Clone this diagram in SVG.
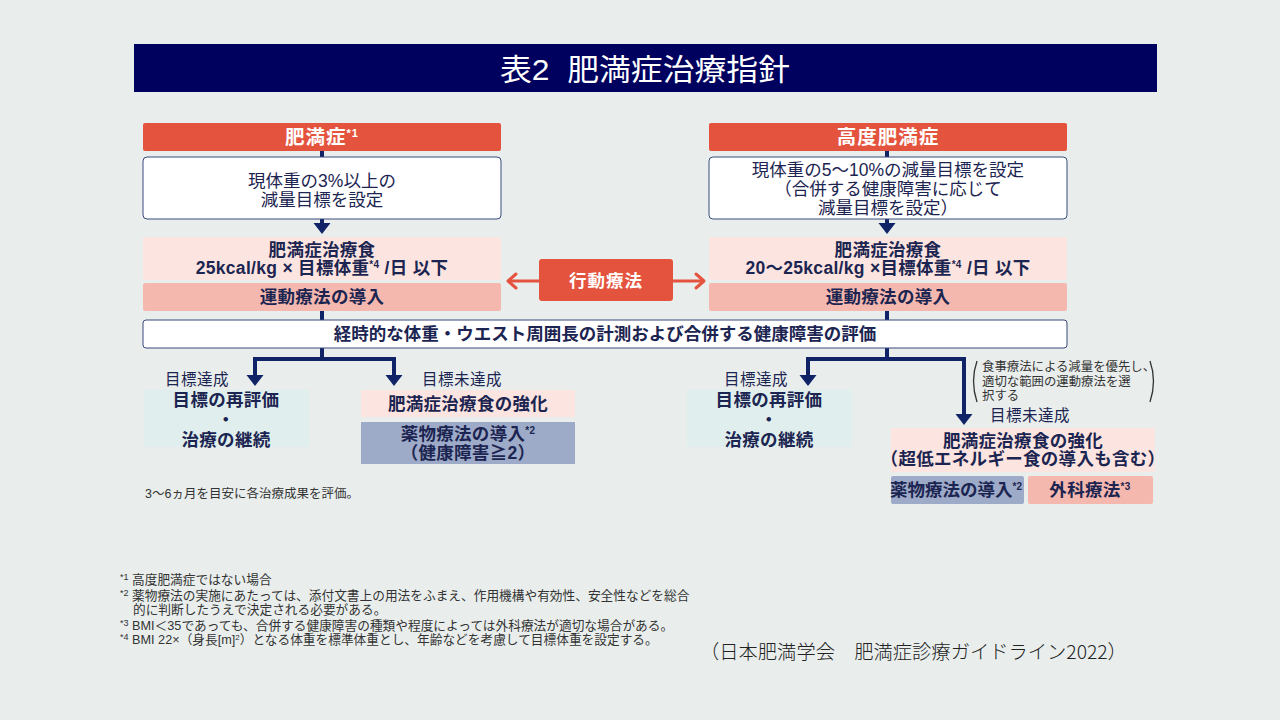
<svg xmlns="http://www.w3.org/2000/svg" width="1280" height="720" viewBox="0 0 1280 720">
<defs>
<style>
text{font-family:"Liberation Sans","Noto Sans CJK JP",sans-serif;fill:#1c2551}
.hd{fill:#e4533d}
.hdt{fill:#fff;font-size:19.5px;font-weight:bold;text-anchor:middle;letter-spacing:1px}
.wb{fill:#fff;stroke:#3b4a7c;stroke-width:1}
.wt{font-size:17.5px;text-anchor:middle}
.pl{fill:#fce5e0}
.pd{fill:#f5b8ae}
.tl{fill:#e0efed}
.bl{fill:#9eabc8}
.bt{font-size:17.5px;font-weight:bold;text-anchor:middle;letter-spacing:0.3px}
.lb{font-size:15.5px;letter-spacing:0.5px}
.ft{font-size:12.7px;fill:#333}
.nt{font-size:12.4px;fill:#333}
.cn{stroke:#0f2366;stroke-width:4;fill:none}
.cna{stroke:#0f2366;stroke-width:4;fill:none;marker-end:url(#arrN)}
.rda{stroke:#e4533d;stroke-width:3;fill:none;marker-end:url(#arrR)}
</style>
<marker id="arrN" viewBox="0 -9 12 18" refX="1" refY="0" markerWidth="12" markerHeight="18" markerUnits="userSpaceOnUse" orient="auto">
<path d="M0,-8.5 L11,0 L0,8.5 z" fill="#0f2366"/>
</marker>
<marker id="arrR" viewBox="-11 -10 13 20" refX="0" refY="0" markerWidth="13" markerHeight="20" markerUnits="userSpaceOnUse" orient="auto" overflow="visible">
<path d="M-8,-7 L0,0 L-8,7" fill="none" stroke="#e4533d" stroke-width="3" stroke-linecap="round" stroke-linejoin="round"/>
</marker>
</defs>
<rect width="1280" height="720" fill="#e9eeed"/>

<g id="title">
<rect x="134" y="44" width="1023" height="48" fill="#00005e"/>
<text x="645" y="80" font-family="Noto Sans CJK JP" font-size="30" style="fill:#fff" text-anchor="middle" textLength="290" lengthAdjust="spacingAndGlyphs" xml:space="preserve">表2  肥満症治療指針</text>
</g>

<g id="connectors">
<line class="cn" x1="322" y1="151" x2="322" y2="157"/>
<line class="cna" x1="322" y1="219" x2="322" y2="224"/>
<line class="cn" x1="322" y1="311" x2="322" y2="320"/>
<line class="cn" x1="887" y1="151" x2="887" y2="157"/>
<line class="cna" x1="887" y1="219" x2="887" y2="224"/>
<line class="cn" x1="887" y1="311" x2="887" y2="320"/>
<path class="cn" d="M322,348 V359"/>
<path class="cna" d="M255,376 V359 H394 V376"/>
<path class="cna" d="M255,359 V376"/>
<path class="cn" d="M887,348 V359"/>
<path class="cna" d="M808,376 V359 H964 V415"/>
<path class="cna" d="M808,359 V376"/>
<line class="rda" x1="539" y1="281" x2="508" y2="281"/>
<line class="rda" x1="673" y1="281" x2="704" y2="281"/>
</g>

<g id="n-obesity">
<rect class="hd" x="143" y="123" width="358" height="28" rx="2"/>
<text class="hdt" x="322" y="144">肥満症<tspan font-size="11" dy="-7">*1</tspan></text>
</g>
<g id="n-goal-left">
<rect class="wb" x="143" y="157" width="358" height="62" rx="4"/>
<text class="wt" x="322" y="187">現体重の3%以上の</text>
<text class="wt" x="322" y="206">減量目標を設定</text>
</g>
<g id="n-diet-left">
<rect class="pl" x="143" y="237" width="358" height="43" rx="2"/>
<text class="bt" x="322" y="256">肥満症治療食</text>
<text class="bt" x="322" y="274">25kcal/kg × 目標体重<tspan font-size="10" dy="-6">*4</tspan><tspan dy="6"> /日 以下</tspan></text>
</g>
<g id="n-exercise-left">
<rect class="pd" x="143" y="283" width="358" height="28" rx="2"/>
<text class="bt" x="322" y="303">運動療法の導入</text>
</g>

<g id="n-severe">
<rect class="hd" x="709" y="123" width="358" height="28" rx="2"/>
<text class="hdt" x="888" y="144">高度肥満症</text>
</g>
<g id="n-goal-right">
<rect class="wb" x="709" y="157" width="358" height="62" rx="4"/>
<text class="wt" x="888" y="176">現体重の5〜10%の減量目標を設定</text>
<text class="wt" x="888" y="195">（合併する健康障害に応じて</text>
<text class="wt" x="888" y="214">減量目標を設定）</text>
</g>
<g id="n-diet-right">
<rect class="pl" x="709" y="237" width="358" height="43" rx="2"/>
<text class="bt" x="888" y="256">肥満症治療食</text>
<text class="bt" x="888" y="274">20〜25kcal/kg ×目標体重<tspan font-size="10" dy="-6">*4</tspan><tspan dy="6"> /日 以下</tspan></text>
</g>
<g id="n-exercise-right">
<rect class="pd" x="709" y="283" width="358" height="28" rx="2"/>
<text class="bt" x="888" y="303">運動療法の導入</text>
</g>

<g id="n-behavior">
<rect class="hd" x="539" y="259" width="134" height="42" rx="3"/>
<text class="hdt" x="606" y="287" style="font-size:17.5px">行動療法</text>
</g>

<g id="n-monitor">
<rect class="wb" x="143" y="320" width="924" height="28" rx="3"/>
<text class="bt" x="605" y="340" style="letter-spacing:0">経時的な体重・ウエスト周囲長の計測および合併する健康障害の評価</text>
</g>

<g id="labels">
<text class="lb" x="165" y="385">目標達成</text>
<text class="lb" x="422" y="385">目標未達成</text>
<text class="lb" x="724" y="385">目標達成</text>
<text class="lb" x="990" y="421">目標未達成</text>
</g>

<g id="n-reeval-left">
<rect class="tl" x="144" y="390" width="165" height="57"/>
<text class="bt" x="226" y="406">目標の再評価</text>
<text class="bt" x="226" y="426">・</text>
<text class="bt" x="226" y="446">治療の継続</text>
</g>
<g id="n-diet-strong-left">
<rect class="pl" x="361" y="390" width="214" height="27"/>
<text class="bt" x="468" y="410">肥満症治療食の強化</text>
</g>
<g id="n-drug-left">
<rect class="bl" x="361" y="422" width="214" height="42"/>
<text class="bt" x="468" y="440">薬物療法の導入<tspan font-size="10" dy="-6">*2</tspan></text>
<text class="bt" x="468" y="459">（健康障害≧2）</text>
</g>
<text x="145" y="498" style="font-size:12.5px;fill:#333">3〜6ヵ月を目安に各治療成果を評価。</text>

<g id="n-reeval-right">
<rect class="tl" x="687" y="390" width="165" height="57"/>
<text class="bt" x="769" y="406">目標の再評価</text>
<text class="bt" x="769" y="426">・</text>
<text class="bt" x="769" y="446">治療の継続</text>
</g>
<g id="n-note">
<path d="M977,361 Q970,381 977,402" fill="none" stroke="#333" stroke-width="1.3"/>
<path d="M1150,361 Q1157,381 1150,402" fill="none" stroke="#333" stroke-width="1.3"/>
<text class="nt" x="982" y="371">食事療法による減量を優先し、</text>
<text class="nt" x="982" y="386">適切な範囲の運動療法を選</text>
<text class="nt" x="982" y="400">択する</text>
</g>
<g id="n-diet-strong-right">
<rect class="pl" x="891" y="428" width="264" height="44"/>
<text class="bt" x="1023" y="447">肥満症治療食の強化</text>
<text class="bt" x="1023" y="465">（超低エネルギー食の導入も含む）</text>
</g>
<g id="n-drug-right">
<rect class="bl" x="891" y="476" width="133" height="28" rx="2"/>
<text class="bt" x="956" y="496" style="letter-spacing:0">薬物療法の導入<tspan font-size="10" dy="-6">*2</tspan></text>
</g>
<g id="n-surgery">
<rect class="pd" x="1028" y="476" width="125" height="28" rx="2"/>
<text class="bt" x="1090" y="496">外科療法<tspan font-size="10" dy="-6">*3</tspan></text>
</g>

<g id="footnotes">
<text class="ft" x="120" y="584"><tspan font-size="9" dy="-4">*1</tspan><tspan dy="4"> 高度肥満症ではない場合</tspan></text>
<text class="ft" x="120" y="600"><tspan font-size="9" dy="-4">*2</tspan><tspan dy="4"> 薬物療法の実施にあたっては、添付文書上の用法をふまえ、作用機構や有効性、安全性などを総合</tspan></text>
<text class="ft" x="133" y="614">的に判断したうえで決定される必要がある。</text>
<text class="ft" x="120" y="630"><tspan font-size="9" dy="-4">*3</tspan><tspan dy="4"> BMI＜35であっても、合併する健康障害の種類や程度によっては外科療法が適切な場合がある。</tspan></text>
<text class="ft" x="120" y="644"><tspan font-size="9" dy="-4">*4</tspan><tspan dy="4"> BMI 22×（身長[m]</tspan><tspan font-size="8" dy="-4">2</tspan><tspan dy="4">）となる体重を標準体重とし、年齢などを考慮して目標体重を設定する。</tspan></text>
</g>

<text x="700" y="659" style="font-family:'Noto Sans CJK JP',sans-serif;font-size:19.3px;font-weight:300;fill:#222">（日本肥満学会　肥満症診療ガイドライン2022）</text>
</svg>
